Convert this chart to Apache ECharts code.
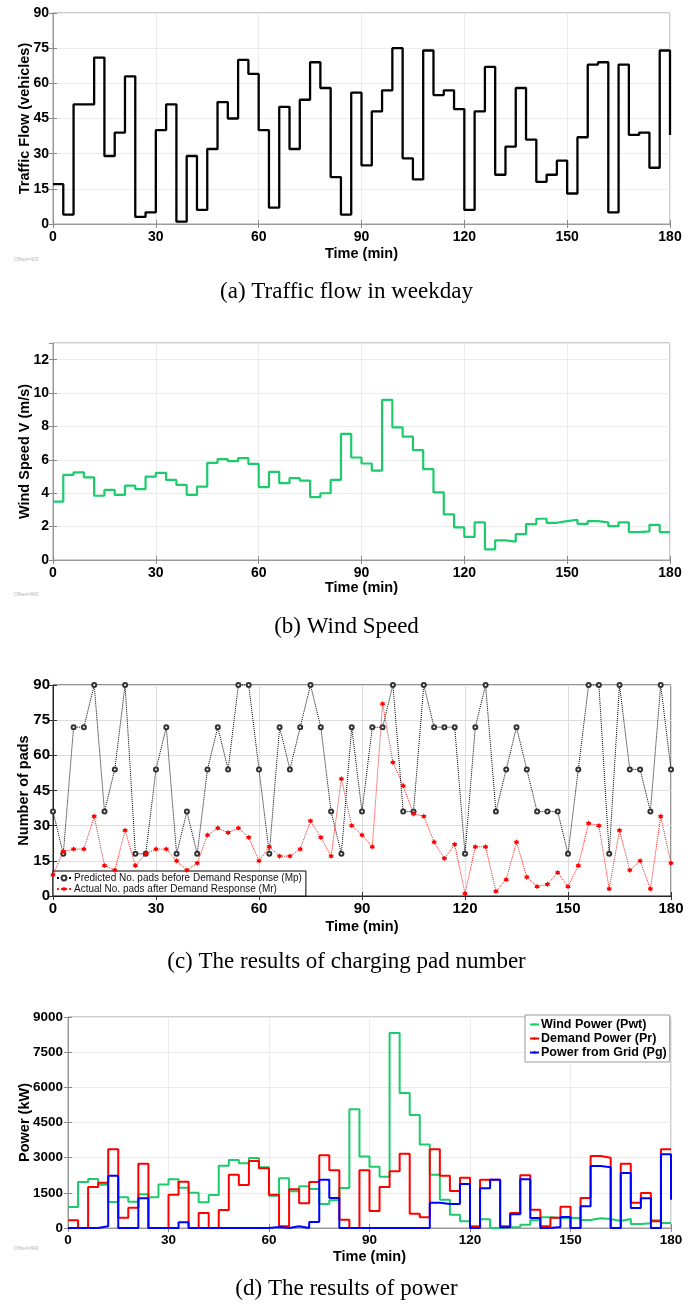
<!DOCTYPE html>
<html>
<head>
<meta charset="utf-8">
<script src="https://cdn.jsdelivr.net/npm/echarts@6/dist/echarts.min.js"></script>
<style>
html,body{margin:0;padding:0;background:#fff;}
#chart{width:693px;height:1308px;}
</style>
</head>
<body>
<div id="chart"></div>
<script>
// ---------- data ----------
const time = [0,3,6,9,12,15,18,21,24,27,30,33,36,39,42,45,48,51,54,57,60,63,66,69,72,75,78,81,84,87,90,93,96,99,102,105,108,111,114,117,120,123,126,129,132,135,138,141,144,147,150,153,156,159,162,165,168,171,174,177,180];
const xTicks = [0,30,60,90,120,150,180];

const trafficFlow = [17,4,51,51,71,29,39,63,3,5,40,51,1,29,6,32,52,45,70,64,40,7,50,32,53,69,58,20,4,56,25,48,57,75,28,19,74,55,57,49,6,48,67,21,33,58,36,18,21,27,13,37,68,69,5,68,38,39,24,74,38];

const windSpeed = [3.5,5.1,5.25,4.95,3.85,4.2,3.9,4.45,4.25,5.0,5.22,4.8,4.5,3.9,4.4,5.82,6.04,5.92,6.1,5.76,4.37,5.28,4.6,4.9,4.76,3.77,4.0,4.8,7.55,6.14,5.78,5.36,9.59,7.95,7.39,6.58,5.44,4.05,2.73,1.95,1.38,2.25,0.64,1.18,1.1,1.55,2.15,2.47,2.23,2.33,2.41,2.17,2.33,2.25,2.03,2.25,1.67,1.71,2.11,1.67,1.67];

const padsMp = [36,18,72,72,90,36,54,90,18,18,54,72,18,36,18,54,72,54,90,90,54,18,72,54,72,90,72,36,18,72,36,72,72,90,36,36,90,72,72,72,18,72,90,36,54,72,54,36,36,36,18,54,90,90,18,90,54,54,36,90,54];

const padsMr = [9,19,20,20,34,13,11,28,13,18,20,20,15,11,14,26,29,27,29,25,15,21,17,17,20,32,25,17,50,30,26,21,82,57,47,35,34,23,16,22,1,21,21,2,7,23,8,4,5,10,4,13,31,30,3,28,11,15,3,34,14];

const windPower = [900,1960,2090,1840,1110,1310,1120,1436,1310,1860,2076,1720,1507,1095,1408,2660,2900,2760,2986,2590,1380,2120,1564,1777,1664,1024,1180,1706,5063,3050,2610,2190,8320,5760,4820,3560,2270,1210,570,284,90,375,0,30,43,142,327,455,427,441,427,341,412,384,299,384,171,199,327,213,213];

const demandPower = [330,0,1750,1934,3356,441,867,2745,0,0,1422,1977,0,640,0,768,2275,1834,2858,2545,1422,71,1650,1052,1962,3100,2460,355,0,2460,725,1750,2417,3171,611,455,3356,2232,1578,2147,40,2062,2062,71,640,2247,782,71,441,910,0,1280,3071,3000,0,2744,1081,1493,284,3356,3356];

const gridPower = [0,0,0,71,2232,0,0,1265,0,0,0,242,0,0,0,0,0,0,0,0,43,0,70,0,256,2062,1280,0,0,0,0,0,0,0,0,0,1081,1024,1024,1877,0,1692,2062,28,583,2076,427,0,43,469,0,924,2645,2588,0,2346,853,1266,0,3142,1209];

const captions = ['(a) Traffic flow in weekday','(b) Wind Speed','(c) The results of charging pad number','(d) The results of power'];
const yNames = ['Traffic Flow (vehicles)','Wind Speed V (m/s)','Number of pads','Power (kW)'];
const legendC = ['Predicted No. pads before Demand Response (Mp)','Actual No. pads after Demand Response (Mr)'];
const legendD = ['Wind Power (Pwt)','Demand Power (Pr)','Power from Grid (Pg)'];

// ---------- helpers ----------
const pairs = ys => time.map((t,i)=>[t, ys[i]]);
const SANS = 'Liberation Sans';
const SERIF = 'Liberation Serif';
const GREEN = '#1ccc6c';

const grids = [
  {left:53, top:13,   width:617, height:211, border:'#9a9a9a', split:'#ebebeb', tick:'#8a8a8a'},
  {left:53, top:343,  width:617, height:217, border:'#9a9a9a', split:'#ebebeb', tick:'#8a8a8a'},
  {left:53, top:685,  width:618, height:211, border:'#262626', split:'#dedede', tick:'#333'},
  {left:68, top:1017, width:603, height:211, border:'#9a9a9a', split:'#ebebeb', tick:'#8a8a8a'}
];
const yCfg = [
  {min:0,max:90,interval:15,fs:14,margin:4,gap:21},
  {min:0,max:13,interval:2,fs:14,margin:4,gap:21,hideMax:true},
  {min:0,max:90,interval:15,fs:15,margin:3,gap:22},
  {min:0,max:9000,interval:1500,fs:13.5,margin:5,gap:36}
];
const xCfg = [
  {fs:14,margin:6,gap:22},
  {fs:14,margin:6,gap:20},
  {fs:15,margin:5,gap:23},
  {fs:13.5,margin:5,gap:21}
];

const xAxis = [], yAxis = [];
grids.forEach((g,i)=>{
  xAxis.push({
    gridIndex:i, type:'value', min:0, max:180, interval:30, position:'bottom',
    axisLine:{show:true, onZero:false, lineStyle:{color:g.border, width:1}},
    axisTick:{show:true, inside:true, length:4, lineStyle:{color:g.tick}},
    axisLabel:{fontFamily:SANS, fontWeight:'bold', fontSize:xCfg[i].fs, color:'#000', margin:xCfg[i].margin},
    splitLine:{show:true, lineStyle:{color:g.split, width:1}},
    name:'Time (min)', nameLocation:'middle', nameGap:xCfg[i].gap, nameMoveOverlap:false,
    nameTextStyle:{fontFamily:SANS, fontWeight:'bold', fontSize:14.5, color:'#000'}
  });
  yAxis.push({
    gridIndex:i, type:'value', min:yCfg[i].min, max:yCfg[i].max, interval:yCfg[i].interval, position:'left',
    axisLine:{show:true, onZero:false, lineStyle:{color:g.border, width:1}},
    axisTick:{show:true, inside:true, length:4, lineStyle:{color:g.tick}},
    axisLabel:{fontFamily:SANS, fontWeight:'bold', fontSize:yCfg[i].fs, color:'#000', margin:yCfg[i].margin,
      showMaxLabel: yCfg[i].hideMax ? false : true, formatter: v => String(v)},
    splitLine:{show:true, lineStyle:{color:g.split, width:1}},
    name:yNames[i], nameLocation:'middle', nameGap:yCfg[i].gap, nameRotate:90, nameMoveOverlap:false,
    nameTextStyle:{fontFamily:SANS, fontWeight:'bold', fontSize:14.5, color:'#000'}
  });
});
// opposite-side tick axes (box ticks)
grids.forEach((g,i)=>{
  xAxis.push({
    gridIndex:i, type:'value', min:0, max:180, interval:30, position:'top',
    axisLine:{show:false}, axisLabel:{show:false}, splitLine:{show:false},
    axisTick:{show:true, inside:true, length:4, lineStyle:{color:g.tick}}
  });
  yAxis.push({
    gridIndex:i, type:'value', min:yCfg[i].min, max:yCfg[i].max, interval:yCfg[i].interval, position:'right',
    axisLine:{show:false}, axisLabel:{show:false}, splitLine:{show:false},
    axisTick:{show:true, inside:true, length:4, lineStyle:{color:g.tick}}
  });
});

const stepSeries = (name, ys, gi, color, width, z) => ({
  name, type:'line', step:'end', xAxisIndex:gi, yAxisIndex:gi,
  data:pairs(ys), showSymbol:false, symbol:'none', z:z||2,
  lineStyle:{color, width}, itemStyle:{color}, emphasis:{disabled:true}
});

const hexagram = 'path://M0,-10 L2.9,-5 L8.66,-5 L5.8,0 L8.66,5 L2.9,5 L0,10 L-2.9,5 L-8.66,5 L-5.8,0 L-8.66,-5 L-2.9,-5 Z';

const series = [
  stepSeries('Traffic Flow', trafficFlow, 0, '#000', 2.3),
  stepSeries('Wind Speed', windSpeed, 1, GREEN, 2.2),
  {
    name:legendC[0], type:'line', xAxisIndex:2, yAxisIndex:2, data:pairs(padsMp),
    symbol:'emptyCircle', symbolSize:4, showSymbol:true,
    lineStyle:{color:'#000', width:1, type:'dotted'},
    itemStyle:{color:'#333', borderWidth:0.9}, emphasis:{disabled:true}, z:3
  },
  {
    name:legendC[1], type:'line', xAxisIndex:2, yAxisIndex:2, data:pairs(padsMr),
    symbol:hexagram, symbolSize:5.5, showSymbol:true,
    lineStyle:{color:'#ff1a1a', width:1, type:'dotted'},
    itemStyle:{color:'#ff0000'}, emphasis:{disabled:true}, z:4
  },
  stepSeries(legendD[0], windPower, 3, GREEN, 2, 2),
  stepSeries(legendD[1], demandPower, 3, '#ff0000', 2, 3),
  stepSeries(legendD[2], gridPower, 3, '#0000ff', 2, 4)
];

const capTops = [280, 615, 950, 1277];
const title = captions.map((c,i)=>({
  text:c, left:'center', top:capTops[i], padding:0,
  textStyle:{fontFamily:SERIF, fontWeight:'normal', fontSize:23, color:'#000'}
}));
title.push(
  {text:'Offset=420', left:14, top:257, padding:0, textStyle:{fontFamily:SANS, fontWeight:'normal', fontSize:5, color:'#b5b5b5'}},
  {text:'Offset=840', left:14, top:592, padding:0, textStyle:{fontFamily:SANS, fontWeight:'normal', fontSize:5, color:'#b5b5b5'}},
  {text:'Offset=840', left:14, top:1246, padding:0, textStyle:{fontFamily:SANS, fontWeight:'normal', fontSize:5, color:'#b5b5b5'}}
);

const option = {
  animation:false,
  backgroundColor:'#fff',
  title,
  grid: grids.map(g=>({left:g.left, top:g.top, width:g.width, height:g.height, show:true, borderColor:g.border, borderWidth:1, backgroundColor:'#fff', containLabel:false})),
  xAxis, yAxis,
  legend:[
    {
      data:legendC, left:53, top:871, orient:'vertical', itemGap:1, padding:[2,4,2,3],
      itemWidth:14, itemHeight:6, borderColor:'#000', borderWidth:1, backgroundColor:'#fff',
      borderRadius:0, selectedMode:false,
      textStyle:{fontFamily:SANS, fontSize:10, color:'#111', padding:[0,0,0,-2]}
    },
    {
      data:legendD, left:525, top:1015, orient:'vertical', itemGap:1, padding:[3,3,3,4],
      itemWidth:9, itemHeight:3, borderColor:'#999', borderWidth:1, backgroundColor:'#fff',
      borderRadius:0, selectedMode:false,
      textStyle:{fontFamily:SANS, fontWeight:'bold', fontSize:12.5, color:'#000', padding:[0,0,0,-3]}
    }
  ],
  series
};

const chart = echarts.init(document.getElementById('chart'), null, {renderer:'canvas'});
chart.setOption(option);
</script>
</body>
</html>
